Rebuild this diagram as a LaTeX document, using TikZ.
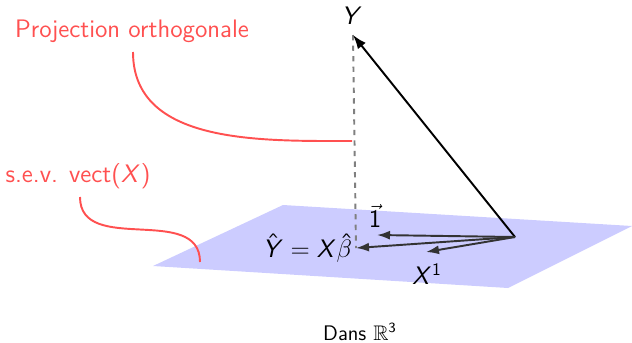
\documentclass[tikz,border=0pt]{standalone}
\usepackage{amssymb}
\usetikzlibrary{arrows.meta, positioning, calc}
% maths en sans serif (lettres inclinees, chiffres droits)
\DeclareSymbolFont{sfitalic}{OT1}{cmss}{m}{sl}
\SetSymbolFont{operators}{normal}{OT1}{cmss}{m}{n}
\DeclareMathSymbol{X}{\mathalpha}{sfitalic}{`X}
\DeclareMathSymbol{Y}{\mathalpha}{sfitalic}{`Y}
\definecolor{planecol}{RGB}{204,204,255}
\definecolor{notecol}{RGB}{255,80,80}
\tikzset{
  vec/.style={-{Latex[length=2.6mm, width=1.8mm]}, line width=1.1pt, black!80},
  note/.style={notecol, font=\Large\sffamily},
  notelink/.style={notecol, line width=1.1pt},
  lab/.style={font=\Large\sffamily, inner sep=0pt},
}

\begin{document}
\begin{tikzpicture}[x=0.02cm, y=-0.02cm]
    \useasboundingbox (0,0) rectangle (632,342);
    % plan vect(X)
    \fill[planecol] (153,266) -- (283,205) -- (632,226) -- (508,288) -- cycle;
    \coordinate (O) at (515,237);
    \coordinate (Y) at (353,35);
    \coordinate (Yh) at (356,248);
    \coordinate (U) at (377,235);
    \coordinate (X1) at (426,252);
    \draw[gray, line width=1.1pt, dashed] (Y) -- (Yh);
    \draw[-{Latex[length=2.8mm, width=2mm]}, line width=1.1pt] (O) -- (Y);
    \draw[vec] (O) -- (U);
    \draw[vec] (O) -- (Yh);
    \draw[vec] (O) -- (X1);
    \node[lab] (labY) at (352,16) {$Y$};
    \node[lab] (labU) at (375,216) {$\vec{1}$};
    \node[lab, left=2pt of Yh] (labYh) {$\hat{Y} = X\hat{\beta}$};
    \node[lab] (labX1) at (427,274) {$X^1$};
    % annotations
    \node[note] (proj) at (132,31) {Projection orthogonale};
    \coordinate (pstart) at (133,52);
    \coordinate (pend) at (352,141);
    \draw[notelink] (pstart) to[out=-90, in=180] (pend);
    \node[note] (sev) at (78,176) {s.e.v. vect$(X)$};
    \coordinate (sstart) at (80,197);
    \coordinate (send) at (200,262);
    \draw[notelink] (sstart) to[out=-90, in=90, looseness=1.1] (send);
    \node[font=\large\sffamily] (dans) at (360,332) {Dans $\mathbb{R}^3$};
\end{tikzpicture}
\end{document}
